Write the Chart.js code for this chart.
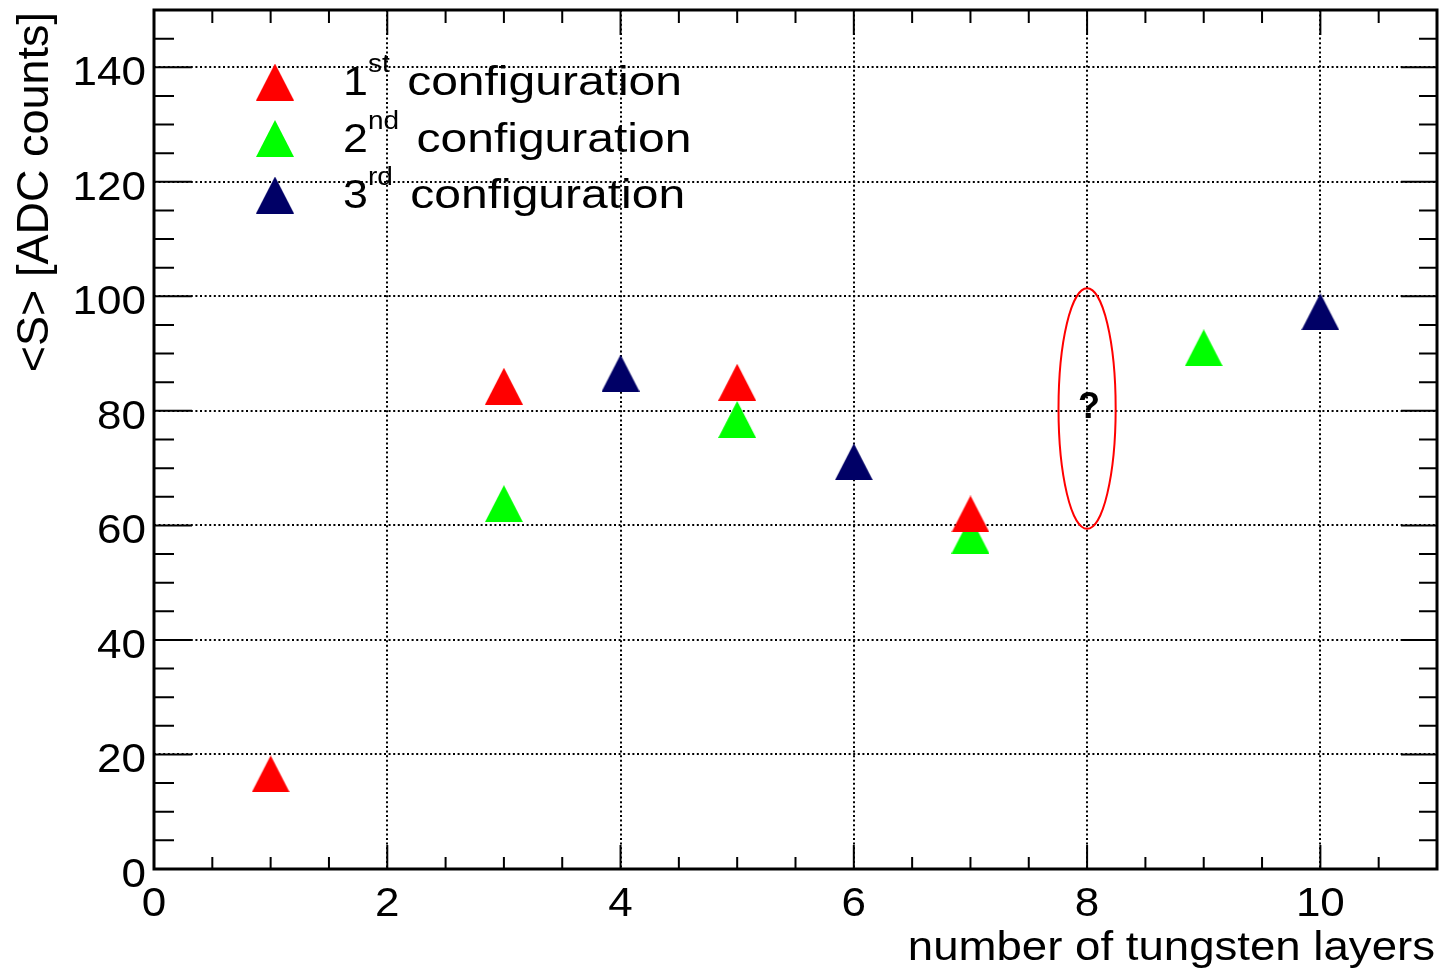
<!DOCTYPE html>
<html lang="en">
<head>
    <meta charset="UTF-8">
    <title>Signal vs tungsten layers</title>
    <script src="https://cdn.jsdelivr.net/npm/chart.js"></script>
    <style>
        body {
            margin: 0;
            background: #fff;
        }
        canvas {
            display: block;
        }
    </style>
</head>
<body>
    <canvas id="signalChart" width="1447" height="973"></canvas>

    <script>
        // mean signal per configuration, by number of tungsten layers
        const config1Layers = [1, 3, 5, 7];
        const config1Signal = [16.6, 84.3, 85.0, 62.0];
        const config2Layers = [3, 5, 7, 9];
        const config2Signal = [63.8, 78.5, 58.3, 91.0];
        const config3Layers = [4, 6, 10];
        const config3Signal = [86.6, 71.1, 97.3];

        const ordinals = ['1', '2', '3'];
        const suffixes = ['st', 'nd', 'rd'];
        const colors = ['#ff0000', '#00ff00', '#000066'];

        const xTicks = [0, 2, 4, 6, 8, 10];
        const yTicks = [0, 20, 40, 60, 80, 100, 120, 140];

        // the missing 8-layer measurement
        const missingLayers = 8;
        const missingSignal = 80.4;
        const missingHalfWidth = 0.245;
        const missingHalfHeight = 21;

        const FONT = '"Liberation Sans", Arial, sans-serif';

        function triangle(color) {
            const c = document.createElement('canvas');
            c.width = 38;
            c.height = 37;
            const g = c.getContext('2d');
            g.fillStyle = color;
            g.beginPath();
            g.moveTo(19, 0);
            g.lineTo(38, 37);
            g.lineTo(0, 37);
            g.closePath();
            g.fill();
            return c;
        }

        function toPoints(xs, ys) {
            return xs.map((x, i) => ({ x: x, y: ys[i] }));
        }

        function wideText(ctx, text, x, y, align, sx) {
            ctx.save();
            ctx.translate(x, y);
            ctx.scale(sx, 1);
            ctx.textAlign = align;
            ctx.fillText(text, 0, 0);
            ctx.restore();
        }

        // frame, inward ticks, labels, legend and the "?" marker
        const furniture = {
            id: 'furniture',
            afterDraw(chart) {
                const ctx = chart.ctx;
                const a = chart.chartArea;
                const xs = chart.scales.x;
                const ys = chart.scales.y;

                ctx.save();
                ctx.strokeStyle = '#000';
                ctx.lineWidth = 2;
                ctx.beginPath();
                for (let v = 0.5; v < 11; v += 0.5) {
                    const px = xs.getPixelForValue(v);
                    const major = v % 2 === 0;
                    ctx.moveTo(px, a.bottom);
                    ctx.lineTo(px, a.bottom - (major ? 24 : 12));
                    ctx.moveTo(px, a.top);
                    ctx.lineTo(px, a.top + (major ? 25 : 13));
                }
                for (let v = 5; v < 150; v += 5) {
                    const py = ys.getPixelForValue(v);
                    const major = v % 20 === 0;
                    ctx.moveTo(a.left, py);
                    ctx.lineTo(a.left + (major ? 38 : 20), py);
                    ctx.moveTo(a.right, py);
                    ctx.lineTo(a.right - (major ? 36 : 18), py);
                }
                ctx.stroke();

                ctx.lineWidth = 3;
                ctx.strokeRect(a.left, a.top, a.right - a.left, a.bottom - a.top);

                // tick labels
                ctx.fillStyle = '#000';
                ctx.font = '40px ' + FONT;
                ctx.textBaseline = 'alphabetic';
                yTicks.forEach(v => {
                    wideText(ctx, String(v), 146, ys.getPixelForValue(v) + 18, 'right', 1.1);
                });
                xTicks.forEach(v => {
                    wideText(ctx, String(v), xs.getPixelForValue(v), 916, 'center', 1.1);
                });

                // axis titles
                wideText(ctx, 'number of tungsten layers', 1435, 960, 'right', 1.14);
                ctx.save();
                ctx.font = '45px ' + FONT;
                ctx.translate(48, 12);
                ctx.rotate(-Math.PI / 2);
                ctx.textAlign = 'right';
                ctx.fillText('<S> [ADC counts]', 0, 0);
                ctx.restore();

                // legend
                chart.data.datasets.forEach((ds, i) => {
                    const base = 95 + i * 56.5;
                    const img = ds.pointStyle;
                    ctx.drawImage(img, 275 - img.width / 2, base - 13 - img.height / 2);
                    let x = 343;
                    ctx.font = '40px ' + FONT;
                    wideText(ctx, ordinals[i], x, base, 'left', 1.12);
                    x += ctx.measureText(ordinals[i]).width * 1.12;
                    ctx.font = '25px ' + FONT;
                    wideText(ctx, suffixes[i], x, base - 23, 'left', 1.12);
                    x += ctx.measureText(suffixes[i]).width * 1.12;
                    ctx.font = '40px ' + FONT;
                    x += ctx.measureText(' ').width * 1.12 + 5;
                    wideText(ctx, 'configuration', x, base, 'left', 1.2);
                });

                // missing point: ellipse with a question mark
                const cx = xs.getPixelForValue(missingLayers);
                const cy = ys.getPixelForValue(missingSignal);
                const rx = xs.getPixelForValue(missingLayers + missingHalfWidth) - cx;
                const ry = cy - ys.getPixelForValue(missingSignal + missingHalfHeight);
                ctx.strokeStyle = '#ff0000';
                ctx.lineWidth = 2;
                ctx.beginPath();
                ctx.ellipse(cx, cy, rx, ry, 0, 0, Math.PI * 2);
                ctx.stroke();
                ctx.font = 'bold 36px ' + FONT;
                ctx.textAlign = 'center';
                ctx.textBaseline = 'middle';
                ctx.fillText('?', cx + 2, cy);
                ctx.restore();
            }
        };

        const gridColor = c => (c.tick && c.tick.value === 0) ? 'rgba(0,0,0,0)' : '#000';

        new Chart(document.getElementById('signalChart'), {
            type: 'scatter',
            data: {
                datasets: [
                    { label: '1st configuration', data: toPoints(config1Layers, config1Signal), pointStyle: triangle(colors[0]), backgroundColor: colors[0] },
                    { label: '2nd configuration', data: toPoints(config2Layers, config2Signal), pointStyle: triangle(colors[1]), backgroundColor: colors[1] },
                    { label: '3rd configuration', data: toPoints(config3Layers, config3Signal), pointStyle: triangle(colors[2]), backgroundColor: colors[2] }
                ]
            },
            options: {
                responsive: false,
                animation: false,
                devicePixelRatio: 1,
                layout: { autoPadding: false, padding: { left: 0, top: 10, right: 10, bottom: 0 } },
                elements: { point: { radius: 19, hoverRadius: 19 } },
                plugins: {
                    legend: { display: false },
                    tooltip: { enabled: false }
                },
                scales: {
                    x: {
                        type: 'linear',
                        min: 0,
                        max: 11,
                        afterBuildTicks: s => { s.ticks = xTicks.map(v => ({ value: v })); },
                        afterFit: s => { s.height = 104; },
                        ticks: { display: false },
                        grid: { color: gridColor, lineWidth: 2, drawTicks: false },
                        border: { display: false, dash: [2, 2.6] }
                    },
                    y: {
                        type: 'linear',
                        min: 0,
                        max: 150,
                        afterBuildTicks: s => { s.ticks = yTicks.map(v => ({ value: v })); },
                        afterFit: s => { s.width = 154; },
                        ticks: { display: false },
                        grid: { color: gridColor, lineWidth: 2, drawTicks: false },
                        border: { display: false, dash: [2, 2.6] }
                    }
                }
            },
            plugins: [furniture]
        });
    </script>
</body>
</html>
